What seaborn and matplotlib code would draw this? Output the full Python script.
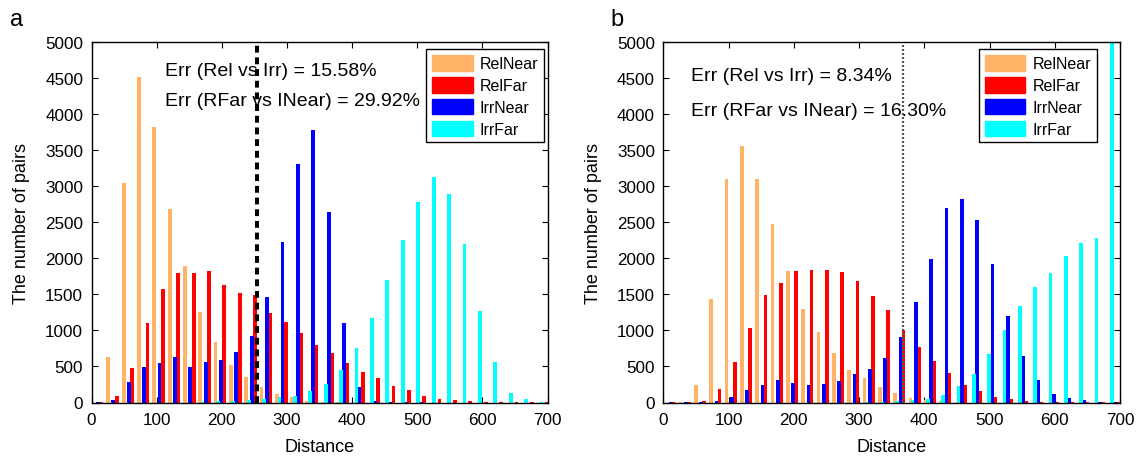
import matplotlib
matplotlib.use("Agg")
import matplotlib.pyplot as plt
from matplotlib.patches import Patch
import seaborn as sns
import pandas as pd

# ---------------- data ----------------
SERIES = ["RelNear", "RelFar", "IrrNear", "IrrFar"]
COLORS = ["#FFB366", "#FF0000", "#0000FF", "#00FFFF"]

# panel a
RELNEAR_A_X = [25.9, 49.4, 72.9, 96.4, 119.9, 143.4, 166.9, 190.4, 213.9, 237.4, 260.9, 284.4, 307.9, 331.4, 354.9, 378.4]
RELNEAR_A = [630, 3040, 4520, 3830, 2690, 1890, 1250, 840, 520, 350, 210, 115, 74, 25, 10, 5]
RELFAR_A_X = [15.1, 38.7, 62.3, 85.9, 109.5, 133.1, 156.7, 180.3, 203.9, 227.5, 251.1, 274.7, 298.3, 321.9, 345.5,
              369.1, 392.7, 416.3, 439.9, 463.5, 487.1, 510.7, 534.3, 557.9, 581.5, 605.1, 628.7, 652.3, 675.9, 699.5]
RELFAR_A = [10, 92, 485, 1100, 1571, 1793, 1797, 1820, 1635, 1515, 1488, 1243, 1113, 961, 799,
            693, 550, 430, 337, 231, 176, 97, 55, 32, 18, 8, 4, 2, 1, 1]
IRRNEAR_A_X = [10.0, 33.6, 57.2, 80.8, 104.4, 128.0, 151.6, 175.2, 198.8, 222.4, 246.0, 269.6, 293.2, 316.8, 340.4,
               364.0, 387.6, 411.2, 434.8, 458.4, 482.0, 505.6]
IRRNEAR_A = [5, 32, 291, 490, 554, 628, 494, 568, 587, 698, 919, 1460, 2227, 3313, 3788,
             2638, 1100, 217, 18, 5, 2, 1]
IRRFAR_A_X = [170.4, 194.1, 217.7, 241.4, 265.0, 288.7, 312.3, 336.0, 359.6, 383.3, 406.9, 430.6, 454.2, 477.9,
              501.5, 525.2, 548.8, 572.5, 596.1, 619.8, 643.4, 667.1, 690.7]
IRRFAR_A = [8, 23, 23, 32, 46, 79, 97, 162, 254, 448, 753, 1169, 1705, 2250,
            2777, 3128, 2897, 2195, 1266, 559, 134, 46, 9]
THRESH_A = 254.5
ERR_A = ["Err (Rel vs Irr) = 15.58%", "Err (RFar vs INear) = 29.92%"]

# panel b
RELNEAR_B_X = [26.3, 49.8, 73.3, 96.8, 120.3, 143.8, 167.3, 190.8, 214.3, 237.8, 261.3, 284.8, 308.3, 331.8, 355.3,
               378.8, 402.3, 425.8, 449.3]
RELNEAR_B = [8, 240, 1432, 3105, 3557, 3105, 2472, 1820, 1294, 984, 688, 448, 347, 217, 129, 69, 32, 14, 5]
RELFAR_B_X = [15.6, 39.1, 62.6, 86.1, 109.6, 133.1, 156.6, 180.1, 203.6, 227.1, 250.6, 274.1, 297.6, 321.1, 344.6,
              368.1, 391.6, 415.1, 438.6, 462.1, 485.6, 509.1, 532.6, 556.1, 579.6, 603.1, 626.6, 650.1, 673.6, 697.1]
RELFAR_B = [3, 8, 23, 185, 559, 1040, 1488, 1654, 1820, 1843, 1834, 1806, 1682, 1483, 1289,
            1003, 776, 578, 407, 245, 162, 74, 42, 23, 9, 5, 3, 2, 1, 1]
IRRNEAR_B_X = [11.0, 34.5, 58.0, 81.5, 105.0, 128.5, 152.0, 175.5, 199.0, 222.5, 246.0, 269.5, 293.0, 316.5, 340.0,
               363.5, 387.0, 410.5, 434.0, 457.5, 481.0, 504.5, 528.0, 551.5, 575.0, 598.5, 622.0, 645.5, 669.0, 692.5]
IRRNEAR_B = [2, 3, 8, 23, 83, 176, 249, 310, 277, 240, 259, 305, 397, 462, 614,
             915, 1395, 1991, 2703, 2827, 2527, 1922, 1206, 642, 314, 115, 60, 32, 9, 5]
IRRFAR_B_X = [311.5, 335.0, 358.5, 382.0, 405.5, 429.0, 452.5, 476.0, 499.5, 523.0, 546.5, 570.0, 593.5, 617.0,
              640.5, 664.0, 687.5]
IRRFAR_B = [5, 8, 23, 37, 46, 111, 231, 393, 670, 1012, 1335, 1608, 1797, 2028, 2213, 2278, 5600]
THRESH_B = 367.9
ERR_B = ["Err (Rel vs Irr) = 8.34%", "Err (RFar vs INear) = 16.30%"]

X_TICKS = [0, 100, 200, 300, 400, 500, 600, 700]
Y_TICKS = [0, 500, 1000, 1500, 2000, 2500, 3000, 3500, 4000, 4500, 5000]

# ---------------- style ----------------
sns.set_theme(style="ticks")
plt.rcParams.update({
    "font.family": ["Liberation Sans", "DejaVu Sans"],
    "xtick.direction": "in", "ytick.direction": "in",
    "xtick.top": True, "ytick.right": True,
    "xtick.major.size": 4.5, "ytick.major.size": 4.5,
    "xtick.major.width": 0.8, "ytick.major.width": 0.8,
    "axes.edgecolor": "black", "axes.linewidth": 1.0,
    "xtick.color": "black", "ytick.color": "black",
    "text.color": "black", "axes.labelcolor": "black",
})

fig = plt.figure(figsize=(11.41, 4.60), dpi=100)
ax_a = fig.add_axes([91.5 / 1141, 56.5 / 460, 456.0 / 1141, 360.2 / 460])
ax_b = fig.add_axes([663.3 / 1141, 56.5 / 460, 456.7 / 1141, 360.2 / 460])


def draw_panel(ax, xs, ys, thresh, thresh_style, err, err_pos, leg_anchor):
    for name, color, x, y in zip(SERIES, COLORS, xs, ys):
        df = pd.DataFrame({"Distance": x, "Count": y})
        sns.barplot(data=df, x="Distance", y="Count", native_scale=True, orient="x",
                    width=0.25, color=color, saturation=1, errorbar=None,
                    linewidth=0, ax=ax)
    ax.axvline(thresh, **thresh_style)
    ax.set_xlim(0, 700)
    ax.set_ylim(0, 5000)
    ax.set_xticks(X_TICKS)
    ax.set_yticks(Y_TICKS)
    ax.tick_params(axis="y", labelsize=12.3, pad=6)
    ax.tick_params(axis="x", labelsize=12.3, pad=7)
    ax.set_xlabel("Distance", fontsize=13, labelpad=8)
    ax.set_ylabel("The number of pairs", fontsize=13, labelpad=11)
    for s in ax.spines.values():
        s.set_visible(True)
        s.set_color("black")
    (tx, ty1, ty2) = err_pos
    ax.text(tx, ty1, err[0], fontsize=14, va="center", ha="left")
    ax.text(tx, ty2, err[1], fontsize=14, va="center", ha="left")
    handles = [Patch(facecolor=c, edgecolor=c, label=n) for n, c in zip(SERIES, COLORS)]
    leg = ax.legend(handles=handles, loc="upper right", bbox_to_anchor=leg_anchor,
                    borderaxespad=0, fontsize=11.5, frameon=True, fancybox=False,
                    handlelength=2.55, handleheight=1.15, handletextpad=0.45,
                    labelspacing=0.35, borderpad=0.35)
    leg.get_frame().set_edgecolor("black")
    leg.get_frame().set_linewidth(1.0)
    leg.get_frame().set_alpha(1)


draw_panel(ax_a,
           [RELNEAR_A_X, RELFAR_A_X, IRRNEAR_A_X, IRRFAR_A_X],
           [RELNEAR_A, RELFAR_A, IRRNEAR_A, IRRFAR_A],
           THRESH_A, dict(color="black", lw=2.9, dashes=(1.7, 1.2)),
           ERR_A, (112.8, 4606, 4189), (0.992, 0.981))
draw_panel(ax_b,
           [RELNEAR_B_X, RELFAR_B_X, IRRNEAR_B_X, IRRFAR_B_X],
           [RELNEAR_B, RELFAR_B, IRRNEAR_B, IRRFAR_B],
           THRESH_B, dict(color="#555555", lw=1.6, dashes=(0.9, 0.9)),
           ERR_B, (42.5, 4536, 4050), (0.949, 0.981))

fig.text(10 / 1141, 1 - 20 / 460, "a", fontsize=17, va="center", ha="left")
fig.text(610 / 1141, 1 - 20 / 460, "b", fontsize=17, va="center", ha="left")

fig.savefig("out.png", dpi=100)
